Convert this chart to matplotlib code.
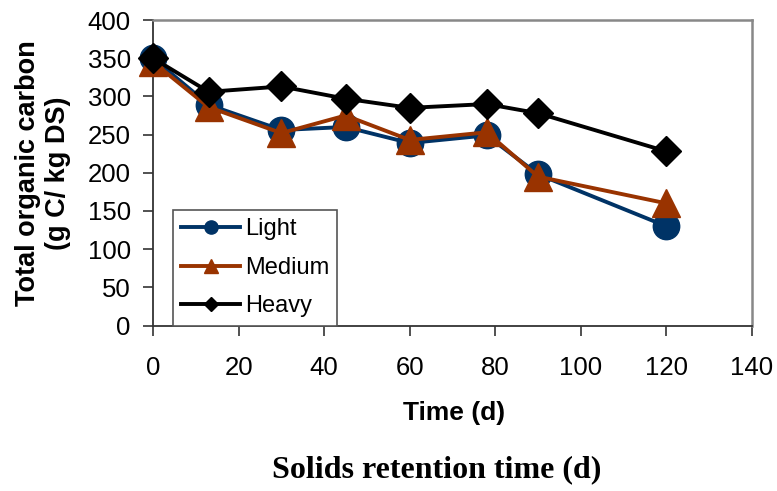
"""Total organic carbon vs. solids retention time for three loading levels."""

import matplotlib
matplotlib.use("Agg")
import matplotlib.pyplot as plt

# Sampling days
days = [0, 13, 30, 45, 60, 78, 90, 120]

# Total organic carbon (g C / kg DS)
toc_light = [350, 289, 256, 260, 239, 249, 198, 130]
toc_medium = [345, 286, 252, 275, 243, 253, 195, 160]
toc_heavy = [350, 306, 313, 297, 285, 290, 278, 228]

series = [
    ("Light", toc_light, "#003366", "o", 19),
    ("Medium", toc_medium, "#993300", "^", 20),
    ("Heavy", toc_heavy, "#000000", "D", 15),
]

plt.rcParams["font.family"] = ["Liberation Sans", "DejaVu Sans"]

fig = plt.figure(figsize=(7.77, 4.91), dpi=100)
ax = fig.add_axes([153 / 777, 1 - 325.6 / 491, 599 / 777, 305.6 / 491])

for label, values, color, marker, ms in series:
    ax.plot(days, values, color=color, marker=marker, markersize=ms,
            linewidth=2.8, label=label, clip_on=False, zorder=3)

ax.set_xlim(0, 140)
ax.set_ylim(0, 400)
ax.set_xticks(range(0, 141, 20))
ax.set_yticks(range(0, 401, 50))
ax.tick_params(axis="both", labelsize=18.5, length=7, width=1.2, direction="out",
               color="#333333")
ax.tick_params(axis="x", pad=15)
ax.tick_params(axis="y", pad=9)

for side in ("left", "bottom"):
    ax.spines[side].set_color("#333333")
    ax.spines[side].set_linewidth(1.3)
for side in ("top", "right"):
    ax.spines[side].set_color("#888888")
    ax.spines[side].set_linewidth(1.8)

leg = ax.legend(loc="lower left", bbox_to_anchor=(0.033, 0.0), borderaxespad=0,
                fontsize=17, markerscale=0.5, handlelength=2.5, handletextpad=0.2,
                labelspacing=0.7, borderpad=0.35, fancybox=False, framealpha=1)
leg.get_frame().set_edgecolor("#555555")
leg.get_frame().set_linewidth(1.2)

fig.text(0.0555, 0.648, "Total organic carbon\n(g C/ kg DS)", rotation=90,
         ha="center", va="center", ma="center", fontsize=19.5, fontweight="bold",
         linespacing=1.18)
fig.text(454 / 777, 1 - 413 / 491, "Time (d)", ha="center", va="center",
         fontsize=19, fontweight="bold")
fig.text(437 / 777, 1 - 470 / 491, "Solids retention time (d)", ha="center",
         va="center", fontsize=23, fontweight="bold",
         family=["Liberation Serif", "DejaVu Serif"])

fig.savefig("out.png", dpi=100)
